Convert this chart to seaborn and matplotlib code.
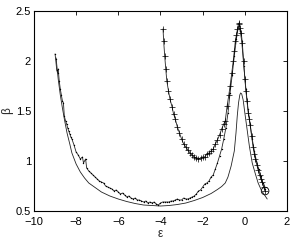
import numpy as np
import pandas as pd
import matplotlib
matplotlib.use("Agg")
import matplotlib.pyplot as plt
import seaborn as sns

# Smooth (theory) curve
eps_smooth = [-8.95, -8.85, -8.75, -8.65, -8.55, -8.43, -8.3, -8.2, -8.0, -7.8, -7.6, -7.4,
              -7.2, -7.0, -6.8, -6.6, -6.4, -6.0, -5.6, -5.2, -4.8, -4.4, -4.0, -3.6, -3.2,
              -2.8, -2.4, -2.0, -1.6, -1.3, -1.1, -0.93, -0.8, -0.65, -0.5, -0.42, -0.36,
              -0.3, -0.24, -0.2, -0.15, -0.08, 0.0, 0.11, 0.22, 0.35, 0.5, 0.63, 0.8, 0.95, 1.06]
beta_smooth = [2.03, 1.82, 1.66, 1.53, 1.41, 1.28, 1.17, 1.08, 0.97, 0.89, 0.83, 0.78,
               0.75, 0.72, 0.69, 0.67, 0.65, 0.62, 0.595, 0.575, 0.56, 0.555, 0.55, 0.555, 0.565,
               0.58, 0.605, 0.635, 0.675, 0.715, 0.745, 0.78, 0.84, 0.95, 1.1, 1.28, 1.45,
               1.58, 1.66, 1.68, 1.67, 1.61, 1.48, 1.31, 1.14, 0.98, 0.87, 0.78, 0.70, 0.655, 0.62]

# Dotted-marker (noisy) curve
eps_dot = [-9.0, -8.97, -8.92, -8.88, -8.85, -8.8, -8.75, -8.7, -8.65, -8.6, -8.56, -8.5,
           -8.45, -8.4, -8.35, -8.3, -8.25, -8.2, -8.1, -8.0, -7.9, -7.8, -7.7, -7.65, -7.55,
           -7.5, -7.4, -7.3, -7.2, -7.1, -7.0, -6.9, -6.8, -6.7, -6.6, -6.5, -6.4, -6.3, -6.2,
           -6.1, -6.0, -5.9, -5.8, -5.7, -5.6, -5.5, -5.4, -5.3, -5.2, -5.1, -5.0, -4.9, -4.8,
           -4.7, -4.6, -4.5, -4.4, -4.3, -4.2, -4.1, -4.0, -3.9, -3.8, -3.7, -3.6, -3.5, -3.4,
           -3.3, -3.2, -3.1, -3.0, -2.9, -2.8, -2.7, -2.6, -2.5, -2.4, -2.3, -2.2, -2.1, -2.0,
           -1.9, -1.8, -1.7, -1.6, -1.5, -1.4, -1.3, -1.2, -1.1, -1.0, -0.9, -0.8, -0.7, -0.6,
           -0.5, -0.4, -0.3, -0.22, -0.15, -0.05, 0.05, 0.15, 0.25, 0.35, 0.45, 0.55, 0.65,
           0.75, 0.85, 0.95]
beta_dot = [2.07, 2.02, 1.91, 1.88, 1.92, 1.80, 1.72, 1.66, 1.60, 1.58, 1.45, 1.40,
            1.37, 1.33, 1.30, 1.27, 1.24, 1.22, 1.16, 1.09, 1.06, 1.02, 1.04, 0.98, 1.02,
            0.93, 0.90, 0.88, 0.86, 0.84, 0.82, 0.80, 0.79, 0.78, 0.75, 0.74, 0.73, 0.72, 0.70,
            0.71, 0.69, 0.67, 0.68, 0.66, 0.64, 0.65, 0.63, 0.62, 0.63, 0.61, 0.61, 0.60, 0.59,
            0.60, 0.58, 0.59, 0.58, 0.59, 0.57, 0.56, 0.58, 0.59, 0.59, 0.59, 0.59, 0.60, 0.60,
            0.61, 0.62, 0.61, 0.61, 0.63, 0.62, 0.62, 0.63, 0.64, 0.65, 0.67, 0.70, 0.71, 0.74,
            0.77, 0.78, 0.80, 0.84, 0.86, 0.92, 0.98, 1.05, 1.12, 1.22, 1.33, 1.48, 1.68, 1.86,
            2.05, 2.22, 2.35, 2.30, 2.20, 1.95, 1.72, 1.52, 1.37, 1.22, 1.10, 1.00, 0.92,
            0.85, 0.78, 0.72]

# Plus-marker curve
eps_plus = [-3.88, -3.85, -3.8, -3.75, -3.7, -3.62, -3.55, -3.45, -3.38, -3.3, -3.2, -3.1,
            -3.0, -2.9, -2.8, -2.7, -2.6, -2.5, -2.4, -2.3, -2.2, -2.1, -2.0, -1.9, -1.8,
            -1.7, -1.6, -1.5, -1.4, -1.3, -1.2, -1.1, -1.0, -0.93, -0.84, -0.76, -0.7, -0.62,
            -0.55, -0.5, -0.45, -0.4, -0.35, -0.3, -0.27, -0.22, -0.17, -0.12, -0.06, 0.0,
            0.05, 0.1, 0.16, 0.21, 0.25, 0.32, 0.39, 0.45, 0.5, 0.57, 0.63, 0.7, 0.76, 0.82,
            0.89, 0.96]
beta_plus = [2.32, 2.20, 2.05, 1.92, 1.80, 1.70, 1.62, 1.54, 1.47, 1.42, 1.34, 1.28,
             1.22, 1.17, 1.14, 1.11, 1.08, 1.06, 1.04, 1.03, 1.02, 1.03, 1.04, 1.04, 1.07,
             1.08, 1.10, 1.12, 1.17, 1.21, 1.26, 1.32, 1.37, 1.40, 1.55, 1.66, 1.75, 1.88,
             2.00, 2.10, 2.20, 2.26, 2.32, 2.37, 2.38, 2.33, 2.28, 2.18, 2.00, 1.82,
             1.70, 1.60, 1.48, 1.42, 1.36, 1.25, 1.14, 1.07, 1.02, 0.96, 0.91, 0.86, 0.82, 0.79,
             0.74, 0.70]

# Endpoint circle
eps_end = [0.96]
beta_end = [0.70]

x_ticks = [-10, -8, -6, -4, -2, 0, 2]
y_ticks = [0.5, 1, 1.5, 2, 2.5]

sns.set_theme(style="white")
plt.rcParams['font.family'] = ['Liberation Sans', 'DejaVu Sans']

fig = plt.figure(figsize=(2.95, 2.42), dpi=100)
ax = fig.add_axes([0.115, 0.128, 0.858, 0.827])

df_s = pd.DataFrame({"eps": eps_smooth, "beta": beta_smooth})
df_d = pd.DataFrame({"eps": eps_dot, "beta": beta_dot})
df_p = pd.DataFrame({"eps": eps_plus, "beta": beta_plus})
df_e = pd.DataFrame({"eps": eps_end, "beta": beta_end})

sns.lineplot(data=df_s, x="eps", y="beta", ax=ax, sort=False, estimator=None,
             color="#222222", linewidth=0.6)
sns.lineplot(data=df_d, x="eps", y="beta", ax=ax, sort=False, estimator=None,
             color="#222222", linewidth=0.6, marker=".", markersize=2,
             markeredgewidth=0, markerfacecolor="black")
sns.lineplot(data=df_p, x="eps", y="beta", ax=ax, sort=False, estimator=None,
             color="#222222", linewidth=0.6, marker="+", markersize=4,
             markeredgewidth=0.5, markeredgecolor="black")
sns.scatterplot(data=df_e, x="eps", y="beta", ax=ax, marker="o", s=30,
                facecolor="none", edgecolor="black", linewidth=0.6)

ax.set_xlim(-10, 2)
ax.set_ylim(0.5, 2.5)
ax.set_xticks(x_ticks)
ax.set_xticklabels(["\u221210", "\u22128", "\u22126", "\u22124", "\u22122", "0", "2"])
ax.set_yticks(y_ticks)
ax.set_yticklabels(["0.5", "1", "1.5", "2", "2.5"])
ax.tick_params(direction="in", length=3, width=0.6, top=True, right=True,
               labelsize=8, colors="black")
ax.tick_params(axis="x", pad=4)
ax.tick_params(axis="y", pad=2)
for s in ax.spines.values():
    s.set_color("black")
    s.set_linewidth(0.8)
ax.set_xlabel("\u03b5", fontsize=8.5, labelpad=1)
ax.set_ylabel("\u03b2", fontsize=8.5, labelpad=2)
ax.grid(False)

fig.savefig("out.png", dpi=100)
